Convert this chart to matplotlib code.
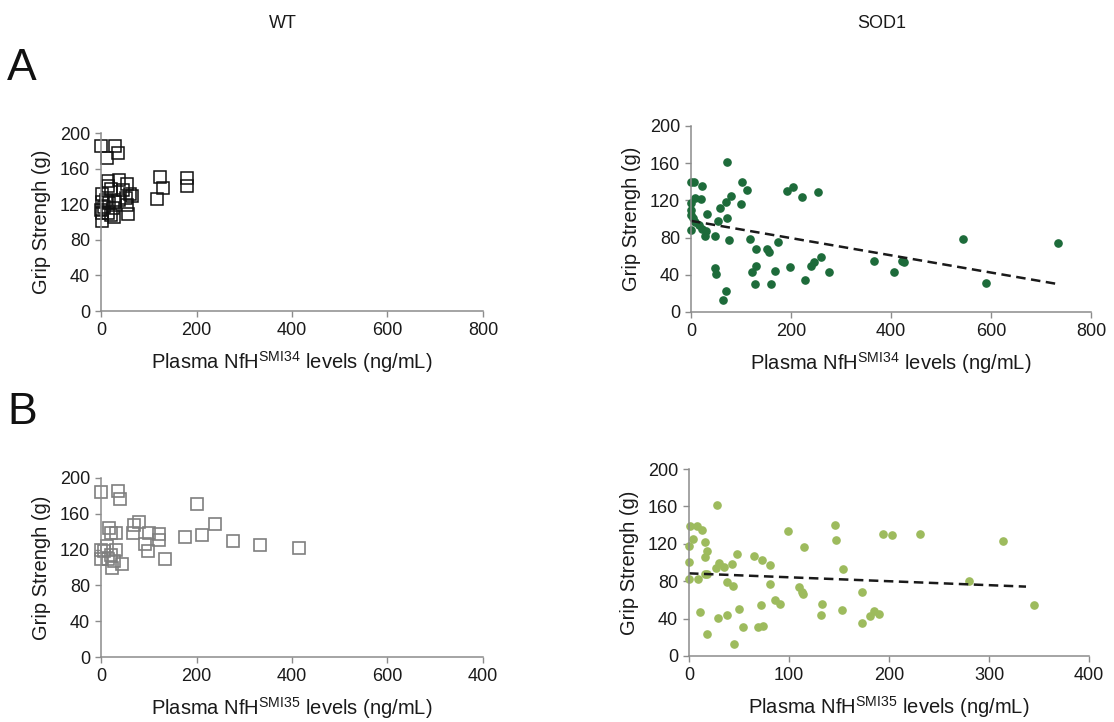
import matplotlib
matplotlib.use("Agg")
import matplotlib.pyplot as plt

plt.rcParams['font.family'] = ['Liberation Sans', 'DejaVu Sans']
plt.rcParams['mathtext.fontset'] = 'custom'
plt.rcParams['mathtext.rm'] = 'Liberation Sans'

# --- data ---
# A, WT (NfH SMI34)
wt_a_x = [0, 30, 35, 12, 37, 14, 14, 20, 54, 46, 61, 65, 53, 124, 129, 117, 180, 180,
          2, 2, 6, 2, 2, 16, 30, 26, 20, 56, 54, 37, 11, 0, 14, 28]
wt_a_y = [185, 185, 177, 172, 147, 146, 141, 137, 143, 136, 131, 129, 127, 151, 138, 126, 149, 140,
          131, 123, 117, 110, 101, 121, 123, 116, 108, 109, 119, 125, 125, 114, 110, 106]

# A, SOD1 (NfH SMI34)
sod_a_x = [71, 0, 5, 22, 7, 20, 0, 0, 0, 3, 7, 0, 15, 21, 29, 27, 31, 47, 53, 57, 69, 79,
           72, 75, 102, 111, 99, 117, 129, 151, 156, 174, 129, 122, 127, 160, 168, 47, 50,
           70, 64, 192, 204, 222, 253, 197, 227, 240, 245, 259, 276, 365, 405, 422, 425,
           544, 590, 734]
sod_a_y = [161, 140, 140, 135, 123, 122, 117, 110, 104, 101, 97, 88, 94, 89, 87, 82, 105, 82,
           98, 112, 118, 125, 101, 77, 140, 131, 116, 78, 68, 68, 65, 75, 50, 43, 30, 30, 44,
           47, 41, 23, 13, 130, 134, 124, 129, 48, 34, 49, 54, 59, 43, 55, 43, 55, 54, 79, 31, 74]
trend_a_x = [0, 734]
trend_a_y = [98, 30]

# B, WT (NfH SMI35)
wt_b_x = [0, 35, 40, 200, 17, 20, 31, 70, 79, 68, 101, 122, 122, 92, 99, 133, 175, 211,
          239, 276, 333, 414, 0, 0, 12, 31, 21, 27, 24, 44, 14, 7]
wt_b_y = [184, 186, 176, 171, 144, 138, 138, 148, 151, 138, 139, 137, 131, 126, 118, 110,
          134, 136, 149, 130, 125, 122, 120, 109, 124, 120, 114, 107, 100, 104, 110, 118]

# B, SOD1 (NfH SMI35)
sod_b_x = [28, 1, 8, 13, 4, 16, 0, 18, 16, 0, 30, 27, 35, 43, 48, 16, 18, 0, 9, 38, 44, 65,
           73, 81, 81, 11, 29, 38, 50, 18, 54, 45, 69, 74, 72, 86, 91, 99, 115, 110, 113,
           114, 133, 132, 146, 147, 154, 153, 173, 173, 181, 185, 190, 194, 203, 231, 280,
           314, 345]
sod_b_y = [161, 139, 139, 135, 125, 122, 118, 112, 106, 101, 100, 94, 95, 98, 109, 88, 88,
           82, 82, 79, 75, 107, 103, 97, 77, 47, 41, 44, 50, 24, 31, 13, 31, 32, 55, 60, 56,
           134, 117, 74, 68, 66, 56, 44, 140, 124, 93, 49, 68, 35, 43, 48, 45, 131, 129, 130,
           80, 123, 55]
trend_b_x = [0, 337]
trend_b_y = [88.4, 74.2]

x_ticks_wide = [0, 200, 400, 600, 800]
x_ticks_b_wt = [0, 200, 400, 600, 800]
x_labels_b_wt = ['0', '200', '400', '600', '400']
x_ticks_b_sod = [0, 100, 200, 300, 400]
y_ticks = [0, 40, 80, 120, 160, 200]

W, H = 1114, 722
fig = plt.figure(figsize=(W / 100, H / 100), dpi=100)


def make_ax(left, top, right, bottom):
    return fig.add_axes([left / W, 1 - bottom / H, (right - left) / W, (bottom - top) / H])


def style(ax, xmax, xticks, xlabel, xticklabels=None):
    ax.set_xlim(0, xmax)
    ax.set_ylim(0, 200)
    ax.set_xticks(xticks)
    if xticklabels is not None:
        ax.set_xticklabels(xticklabels)
    ax.set_yticks(y_ticks)
    for s in ['top', 'right']:
        ax.spines[s].set_visible(False)
    for s in ['left', 'bottom']:
        ax.spines[s].set_color('#8c8c8c')
        ax.spines[s].set_linewidth(1.1)
    ax.tick_params(direction='out', length=4, width=1.0, color='#8c8c8c',
                   labelsize=13, labelcolor='#1a1a1a', pad=4)
    ax.set_ylabel('Grip Strengh (g)', fontsize=14.5, color='#1a1a1a', labelpad=6)
    ax.set_xlabel(xlabel, fontsize=14.5, color='#1a1a1a', labelpad=7)
    for sp in ax.spines.values():
        sp.set_clip_on(False)


lab34 = r'Plasma NfH$^{\mathrm{SMI34}}$ levels (ng/mL)'
lab35 = r'Plasma NfH$^{\mathrm{SMI35}}$ levels (ng/mL)'

# A - WT
ax1 = make_ax(101, 133, 483, 311)
ax1.plot(wt_a_x, wt_a_y, linestyle='none', marker='s', markersize=8.5,
         markerfacecolor='none', markeredgecolor='#111111', markeredgewidth=1.1, clip_on=False)
style(ax1, 800, x_ticks_wide, lab34)

# A - SOD1
ax2 = make_ax(691, 126, 1091, 312)
ax2.plot(sod_a_x, sod_a_y, linestyle='none', marker='o', markersize=5.2,
         color='#1d6b3a', clip_on=False)
ax2.plot(trend_a_x, trend_a_y, color='#1a1a1a', linewidth=1.8, dashes=(3.8, 2.2))
style(ax2, 800, x_ticks_wide, lab34)

# B - WT
ax3 = make_ax(101, 478, 483, 657)
ax3.plot(wt_b_x, wt_b_y, linestyle='none', marker='s', markersize=8.2,
         markerfacecolor='none', markeredgecolor='#7f7f7f', markeredgewidth=1.2, clip_on=False)
style(ax3, 800, x_ticks_b_wt, lab35, x_labels_b_wt)

# B - SOD1
ax4 = make_ax(689, 469, 1089, 656)
ax4.plot(sod_b_x, sod_b_y, linestyle='none', marker='o', markersize=5.2,
         color='#9dbb5d', clip_on=False)
ax4.plot(trend_b_x, trend_b_y, color='#1a1a1a', linewidth=1.8, dashes=(3.8, 2.2))
style(ax4, 400, x_ticks_b_sod, lab35)

# column headers and panel letters
fig.text(283 / W, 1 - 23 / H, 'WT', fontsize=13, ha='center', va='center', color='#1a1a1a')
fig.text(882 / W, 1 - 23 / H, 'SOD1', fontsize=13, ha='center', va='center', color='#1a1a1a')
fig.text(22 / W, 1 - 68 / H, 'A', fontsize=32, ha='center', va='center', color='#111111')
fig.text(22 / W, 1 - 412 / H, 'B', fontsize=32, ha='center', va='center', color='#111111')

fig.savefig('out.png', dpi=100, facecolor='white')
